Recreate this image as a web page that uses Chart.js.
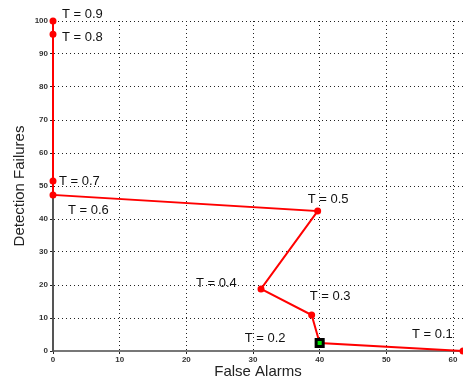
<!DOCTYPE html>
<html>
<head>
<meta charset="utf-8">
<script src="https://cdn.jsdelivr.net/npm/chart.js@4/dist/chart.umd.min.js"></script>
<style>
  html, body { margin: 0; padding: 0; background: #fff; }
  #wrap { width: 463px; height: 381px; }
</style>
</head>
<body>
<div id="wrap"><canvas id="grafico" width="463" height="381"></canvas></div>
<script>
// Dados
const limiares = ['T = 0.9', 'T = 0.8', 'T = 0.7', 'T = 0.6', 'T = 0.5', 'T = 0.4', 'T = 0.3', 'T = 0.2', 'T = 0.1'];
const falsosAlarmes = [0, 0, 0, 0, 39.7, 31.2, 38.8, 40, 61.5];
const falhasDeteccao = [100, 96, 51.5, 47.3, 42.4, 18.8, 10.9, 2.4, 0];
const pontoEscolhido = 7; // T = 0.2, marcado com quadrado verde
const ticksX = [0, 10, 20, 30, 40, 50, 60];
const ticksY = [0, 10, 20, 30, 40, 50, 60, 70, 80, 90, 100];

// Deslocamento (px) de cada rótulo em relação ao seu ponto
const offsetsRotulos = [[9, -7], [9, 3], [6, 0], [15, 16], [-10, -12], [-65, -6], [-2, -19], [-75, -5], [-51, -17]];

const pontos = falsosAlarmes.map((x, i) => ({ x: x, y: falhasDeteccao[i] }));

// Plugin para escrever os rótulos T = ...
const rotulosPlugin = {
    id: 'rotulos',
    afterDatasetsDraw(chart) {
        const ctx = chart.ctx;
        const sx = chart.scales.x, sy = chart.scales.y;
        ctx.save();
        ctx.font = '13px "Liberation Sans", Arial, sans-serif';
        ctx.fillStyle = '#111';
        ctx.textBaseline = 'middle';
        ctx.textAlign = 'left';
        pontos.forEach((p, i) => {
            const px = sx.getPixelForValue(p.x) + offsetsRotulos[i][0];
            const py = sy.getPixelForValue(p.y) + offsetsRotulos[i][1];
            ctx.fillText(limiares[i], px, py);
        });
        ctx.restore();
    }
};

const fonteTicks = { family: '"Liberation Sans", Arial, sans-serif', size: 8, weight: 'bold' };
const fonteTitulo = { family: '"Liberation Sans", Arial, sans-serif', size: 15 };

new Chart(document.getElementById('grafico'), {
    type: 'scatter',
    data: {
        datasets: [{
            data: pontos,
            showLine: true,
            borderColor: '#ff0000',
            backgroundColor: '#ff0000',
            borderWidth: 2,
            pointRadius: 2.5,
            pointHoverRadius: 2.5,
            clip: false,
            order: 2
        }, {
            data: [pontos[pontoEscolhido]],
            pointStyle: 'rect',
            pointRadius: 5,
            backgroundColor: '#00e000',
            borderColor: '#000',
            borderWidth: 3,
            clip: false,
            order: 1
        }]
    },
    options: {
        responsive: false,
        animation: false,
        layout: { autoPadding: false, padding: { top: 21, right: 0, left: 0, bottom: 0 } },
        plugins: { legend: { display: false }, tooltip: { enabled: false } },
        scales: {
            x: {
                type: 'linear',
                min: 0,
                max: 61.5,
                afterBuildTicks: s => { s.ticks = ticksX.map(v => ({ value: v })); },
                afterFit: s => { s.height = 30; s.paddingRight = 0; s.paddingLeft = 0; },
                ticks: { font: fonteTicks, color: '#333', padding: 1, maxRotation: 0 },
                grid: { color: '#222', lineWidth: 1, tickLength: 3 },
                border: { color: '#777', width: 2, dash: [1, 3] },
                title: { display: true, text: 'False Alarms', font: fonteTitulo, color: '#222', padding: { top: 0, bottom: 0 } }
            },
            y: {
                type: 'linear',
                min: 0,
                max: 100,
                afterBuildTicks: s => { s.ticks = ticksY.map(v => ({ value: v })); },
                afterFit: s => { s.width = 53; },
                ticks: { font: fonteTicks, color: '#333', padding: 2 },
                grid: { color: '#222', lineWidth: 1, tickLength: 3 },
                border: { color: '#555', width: 2, dash: [1, 3] },
                title: { display: true, text: 'Detection Failures', font: fonteTitulo, color: '#222', padding: { top: 11, bottom: 0 } }
            }
        }
    },
    plugins: [rotulosPlugin]
});
</script>
</body>
</html>
